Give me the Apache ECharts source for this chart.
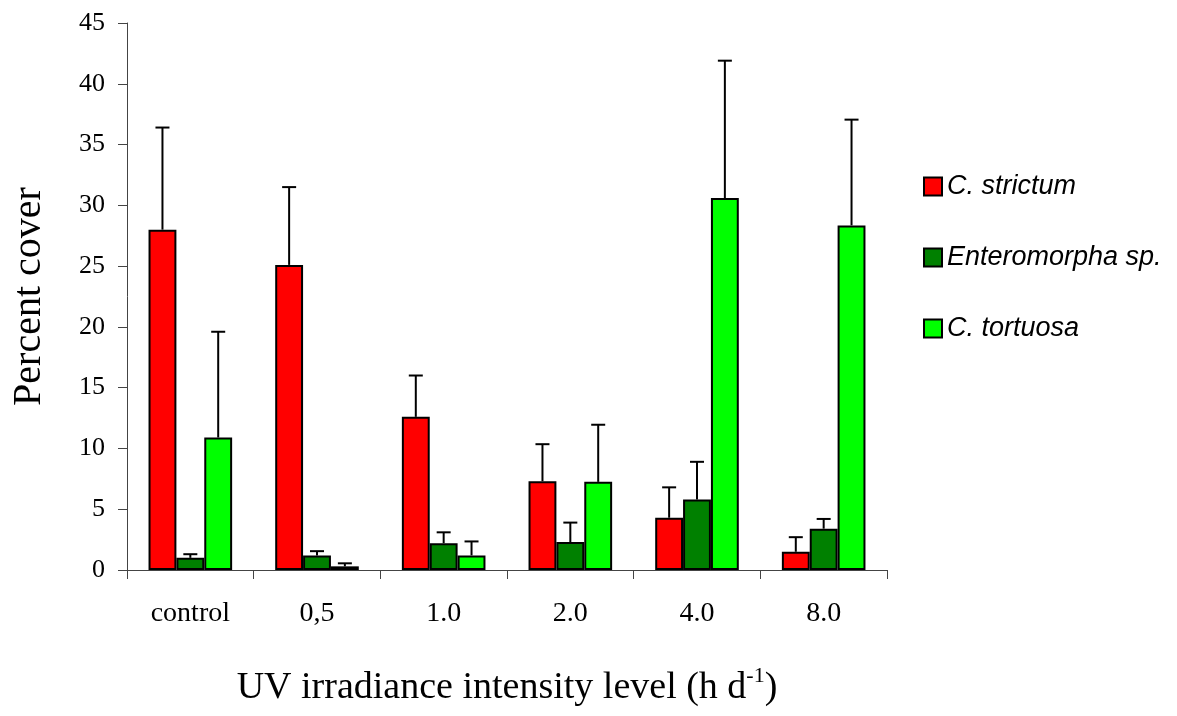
<!DOCTYPE html>
<html>
<head>
<meta charset="utf-8">
<script src="https://cdn.jsdelivr.net/npm/echarts@6/dist/echarts.min.js"></script>
<style>
html,body{margin:0;padding:0;background:#fff;}
#chart{width:1177px;height:716px;}
</style>
</head>
<body>
<div id="chart"></div>
<script>
// ---- data ----
const categories = ['control', '0,5', '1.0', '2.0', '4.0', '8.0'];
const seriesNames = ['C. strictum', 'Enteromorpha sp.', 'C. tortuosa'];
const strictumMean = [28.0, 25.1, 12.6, 7.3, 4.3, 1.5];
const strictumErr  = [8.4, 6.4, 3.4, 3.05, 2.5, 1.2];
const enteroMean   = [1.0, 1.2, 2.2, 2.3, 5.8, 3.4];
const enteroErr    = [0.3, 0.35, 0.9, 1.6, 3.1, 0.8];
const tortuosaMean = [10.9, 0.3, 1.2, 7.25, 30.6, 28.35];
const tortuosaErr  = [8.7, 0.25, 1.15, 4.7, 11.3, 8.7];
const yTicks = [0, 5, 10, 15, 20, 25, 30, 35, 40, 45];

const colors = ['#ff0000', '#008000', '#00ff00'];
const means = [strictumMean, enteroMean, tortuosaMean];
const errs = [strictumErr, enteroErr, tortuosaErr];
const BAR_GAP_RATIO = 0.34;

const chart = echarts.init(document.getElementById('chart'), null, {renderer: 'canvas'});

function errorRenderer(sIdx) {
  return function (params, api) {
    const cat = api.value(0);
    const mean = api.value(1);
    const top = api.value(2);
    const band = api.size([1, 0])[0];
    const barW = band * (1 - BAR_GAP_RATIO) / 3;
    const cx = api.coord([cat, 0])[0] + (sIdx - 1) * barW;
    const y0 = api.coord([cat, mean])[1];
    const y1 = api.coord([cat, top])[1];
    const capHalf = 7;
    const st = {stroke: '#000', lineWidth: 2};
    return {
      type: 'group',
      children: [
        {type: 'line', shape: {x1: cx, y1: y0, x2: cx, y2: y1}, style: st},
        {type: 'line', shape: {x1: cx - capHalf, y1: y1, x2: cx + capHalf, y2: y1}, style: st}
      ]
    };
  };
}

const barSeries = seriesNames.map((name, i) => ({
  name: name,
  type: 'bar',
  data: means[i],
  barGap: '0%',
  barCategoryGap: (BAR_GAP_RATIO * 100) + '%',
  itemStyle: {color: colors[i], borderColor: '#000', borderWidth: 2},
  z: 2
}));

const errSeries = seriesNames.map((name, i) => ({
  type: 'custom',
  name: name + ' err',
  renderItem: errorRenderer(i),
  data: categories.map((c, k) => [k, means[i][k], means[i][k] + errs[i][k]]),
  encode: {x: 0, y: [1, 2]},
  z: 1,
  silent: true
}));

const option = {
  animation: false,
  backgroundColor: '#fff',
  grid: {left: 127, right: 290, top: 23, bottom: 141},
  legend: {
    orient: 'vertical',
    left: 918,
    top: 168,
    itemWidth: 18,
    itemHeight: 18,
    itemGap: 44,
    icon: 'rect',
    data: seriesNames,
    textStyle: {fontFamily: 'Liberation Sans', fontStyle: 'italic', fontSize: 27, color: '#000', lineHeight: 27},
    itemStyle: {borderColor: '#000', borderWidth: 2}
  },
  xAxis: {
    type: 'category',
    data: categories,
    axisLine: {lineStyle: {color: '#444', width: 1}},
    axisTick: {show: true, length: 9, lineStyle: {color: '#444'}},
    axisLabel: {fontFamily: 'Liberation Serif', fontSize: 28, color: '#000', margin: 30},
    name: '{t|UV irradiance intensity level (h d}{s|-1}{t|)}',
    nameLocation: 'middle',
    nameGap: 97,
    nameTextStyle: {
      rich: {
        t: {fontFamily: 'Liberation Serif', fontSize: 38, color: '#000', lineHeight: 42},
        s: {fontFamily: 'Liberation Serif', fontSize: 22, color: '#000', lineHeight: 42, padding: [0, 0, 24, 0]}
      }
    }
  },
  yAxis: {
    type: 'value',
    min: 0,
    max: 45,
    interval: 5,
    splitLine: {show: false},
    axisLine: {show: true, lineStyle: {color: '#444', width: 1}},
    axisTick: {show: true, length: 9, lineStyle: {color: '#444'}},
    axisLabel: {fontFamily: 'Liberation Serif', fontSize: 26, color: '#000', margin: 22,
      formatter: v => yTicks.indexOf(v) >= 0 ? String(v) : ''},
    name: 'Percent cover',
    nameLocation: 'middle',
    nameGap: 78,
    nameTextStyle: {fontFamily: 'Liberation Serif', fontSize: 40, color: '#000'}
  },
  series: [...errSeries, ...barSeries]
};

chart.setOption(option);
</script>
</body>
</html>
